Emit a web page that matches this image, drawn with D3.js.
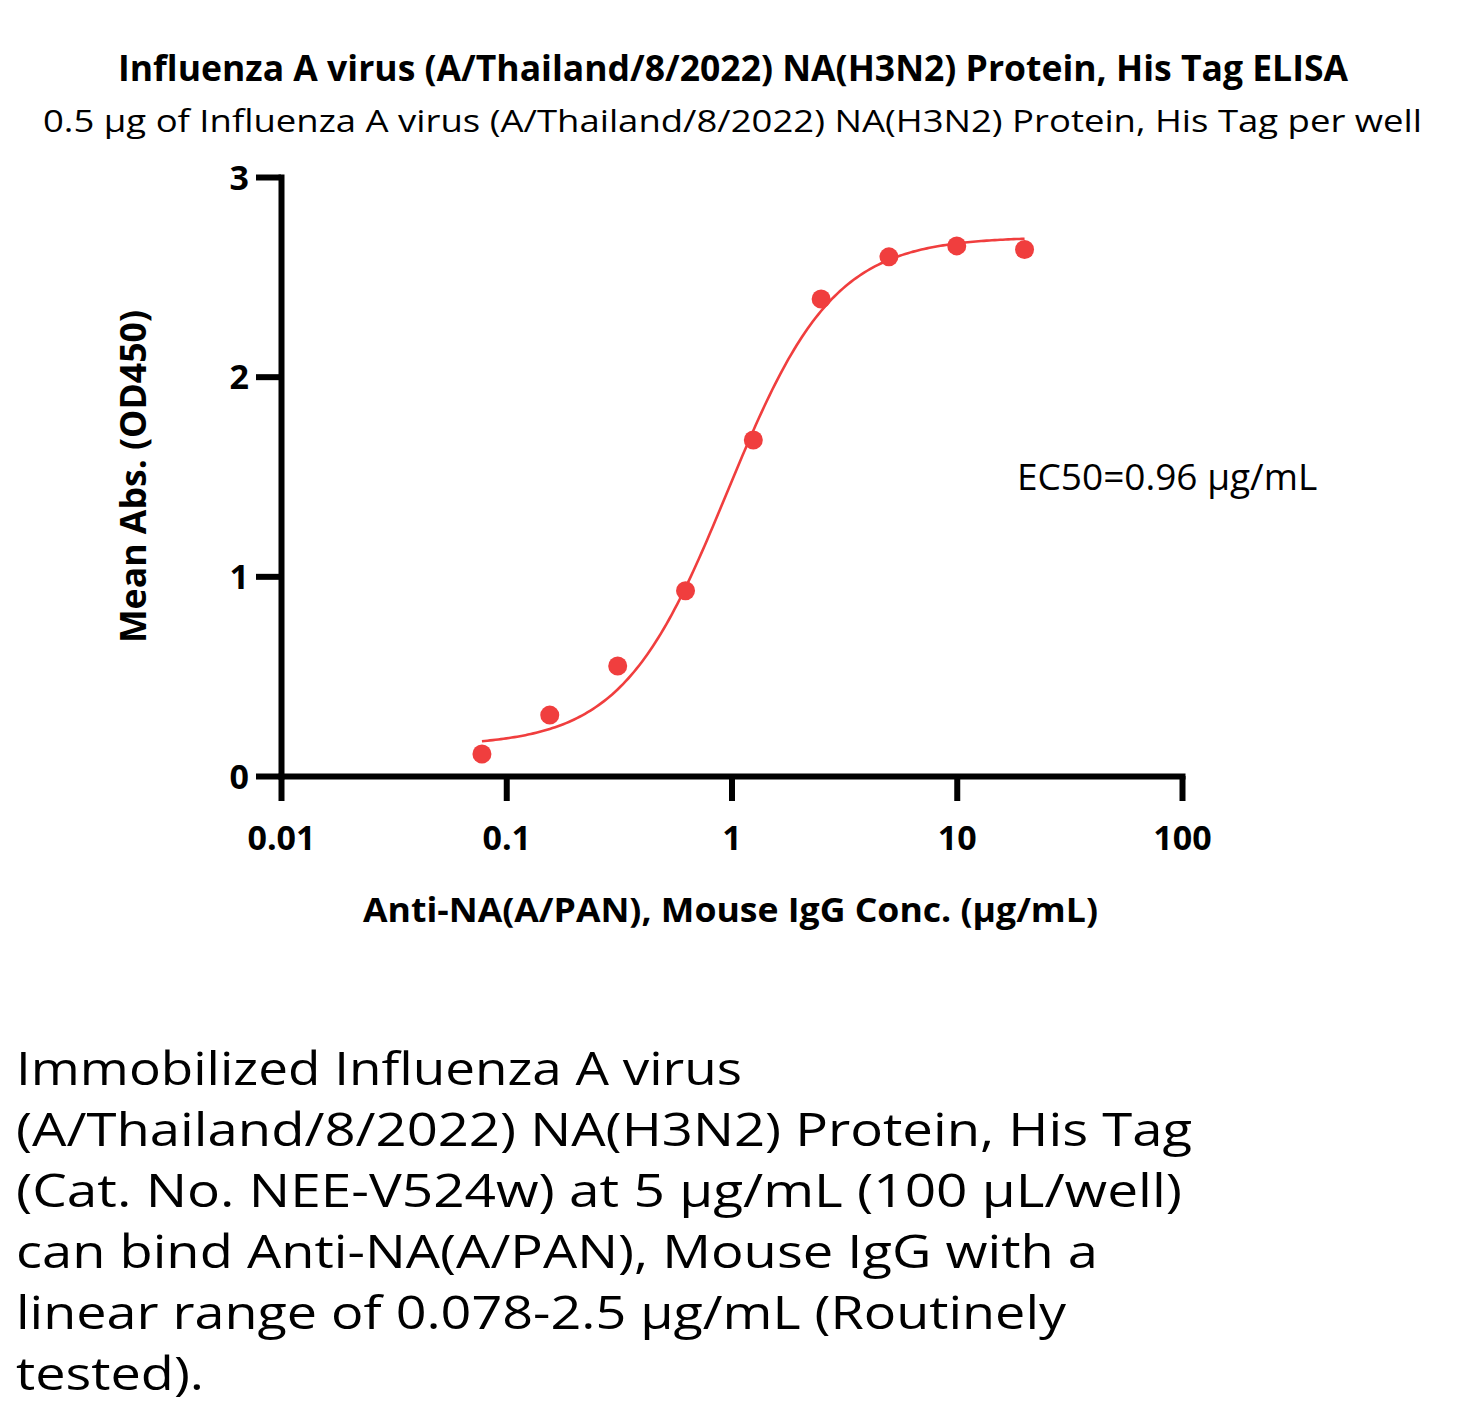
<!DOCTYPE html>
<html>
<head>
<meta charset="utf-8">
<script src="https://cdn.jsdelivr.net/npm/d3@7"></script>
<style>
  html, body { margin: 0; padding: 0; background: #ffffff; }
  svg { display: block; }
  text { font-family: "Open Sans", "Noto Sans", "DejaVu Sans", sans-serif; fill: #000; }
</style>
</head>
<body>
<svg id="chart" width="1467" height="1415"></svg>
<script>
// ---- data ----
const concentrations = [0.078, 0.156, 0.3125, 0.625, 1.25, 2.5, 5, 10, 20];
const meanAbs = [0.11, 0.305, 0.551, 0.928, 1.683, 2.389, 2.60, 2.655, 2.637];
const xTickValues = [0.01, 0.1, 1, 10, 100];
const xTickLabels = ["0.01", "0.1", "1", "10", "100"];
const yTickValues = [0, 1, 2, 3];
const yTickLabels = ["0", "1", "2", "3"];
// 4PL fit parameters (fitted curve drawn in the reference)
const fitBottom = 0.15;
const fitTop = 2.70;
const fitEC50 = 0.96;
const fitHill = 1.85;
const titleText = "Influenza A virus (A/Thailand/8/2022) NA(H3N2) Protein, His Tag ELISA";
const subtitleText = "0.5 \u00b5g of Influenza A virus (A/Thailand/8/2022) NA(H3N2) Protein, His Tag per well";
const xAxisTitle = "Anti-NA(A/PAN), Mouse IgG Conc. (\u00b5g/mL)";
const yAxisTitle = "Mean Abs. (OD450)";
const ec50Label = "EC50=0.96 \u00b5g/mL";
const paragraphLines = [
  "Immobilized Influenza A virus",
  "(A/Thailand/8/2022) NA(H3N2) Protein, His Tag",
  "(Cat. No. NEE-V524w) at 5 \u00b5g/mL (100 \u00b5L/well)",
  "can bind Anti-NA(A/PAN), Mouse IgG with a",
  "linear range of 0.078-2.5 \u00b5g/mL (Routinely",
  "tested)."
];

// ---- layout ----
const svg = d3.select("#chart");
const red = "#f03e3e";
const x = d3.scaleLog().domain([0.01, 100]).range([281, 1182]);
const y = d3.scaleLinear().domain([0, 3]).range([776, 177]);

// titles
function fitText(sel, width) {
  sel.attr("textLength", width).attr("lengthAdjust", "spacingAndGlyphs");
  return sel;
}
fitText(svg.append("text")
  .attr("x", 733).attr("y", 81)
  .attr("text-anchor", "middle")
  .attr("font-size", 36).attr("font-weight", 700)
  .text(titleText), 1230);
fitText(svg.append("text")
  .attr("x", 732.5).attr("y", 132)
  .attr("text-anchor", "middle")
  .attr("font-size", 30.5).attr("font-weight", 400)
  .text(subtitleText), 1379);

// axes
const xAxis = d3.axisBottom(x)
  .tickValues(xTickValues)
  .tickFormat((d, i) => xTickLabels[i])
  .tickSize(25).tickSizeOuter(0);
const yAxis = d3.axisLeft(y)
  .tickValues(yTickValues)
  .tickFormat((d, i) => yTickLabels[i])
  .tickSize(25).tickSizeOuter(0);

const gx = svg.append("g").attr("transform", `translate(0,${y(0)})`).call(xAxis);
const gy = svg.append("g").attr("transform", `translate(${x(0.01)},0)`).call(yAxis);

[gx, gy].forEach(g => {
  g.select(".domain").attr("stroke", "#000").attr("stroke-width", 6).attr("stroke-linecap", "square");
  g.selectAll(".tick line").attr("stroke", "#000").attr("stroke-width", 6);
  g.selectAll(".tick text")
    .attr("fill", "#000")
    .style("font-family", "'Open Sans', 'Noto Sans', sans-serif")
    .attr("font-size", 34).attr("font-weight", 700);
});
gx.selectAll(".tick text").attr("y", 74).attr("dy", 0);
gy.selectAll(".tick text").attr("x", -32).attr("dy", "0.36em");

// axis titles
fitText(svg.append("text")
  .attr("x", 730.5).attr("y", 922)
  .attr("text-anchor", "middle")
  .attr("font-size", 34).attr("font-weight", 700)
  .text(xAxisTitle), 735);
fitText(svg.append("text")
  .attr("transform", "translate(146,476.5) rotate(-90)")
  .attr("text-anchor", "middle")
  .attr("font-size", 35).attr("font-weight", 700)
  .text(yAxisTitle), 333);

// fitted curve
const fit = c => fitBottom + (fitTop - fitBottom) / (1 + Math.pow(fitEC50 / c, fitHill));
const curveX = d3.range(0, 201).map(i => Math.pow(10, Math.log10(concentrations[0]) + i / 200 * (Math.log10(concentrations[concentrations.length - 1]) - Math.log10(concentrations[0]))));
const line = d3.line().x(d => x(d)).y(d => y(fit(d))).curve(d3.curveLinear);
svg.append("path")
  .datum(curveX)
  .attr("d", line)
  .attr("fill", "none")
  .attr("stroke", red)
  .attr("stroke-width", 2.6);

// points
svg.append("g").selectAll("circle")
  .data(concentrations.map((c, i) => ({ c, v: meanAbs[i] })))
  .join("circle")
  .attr("cx", d => x(d.c))
  .attr("cy", d => y(d.v))
  .attr("r", 9.5)
  .attr("fill", red);

// EC50 annotation
svg.append("text")
  .attr("x", 1017).attr("y", 490)
  .attr("font-size", 37).attr("font-weight", 400)
  .text(ec50Label);

// paragraph
const paraWidths = [726, 1176, 1166, 1082, 1050, 188];
const paraBaselines = [1085, 1146, 1207, 1268, 1329, 1390];
paragraphLines.forEach((t, i) => {
  fitText(svg.append("text")
    .attr("x", 16).attr("y", paraBaselines[i])
    .attr("font-size", 45).attr("font-weight", 400)
    .text(t), paraWidths[i]);
});
</script>
</body>
</html>
